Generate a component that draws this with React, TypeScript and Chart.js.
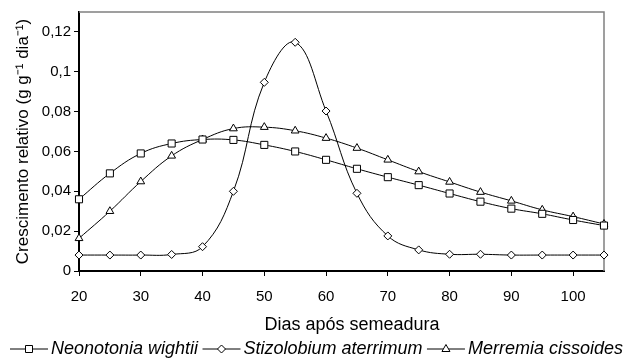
import React, { useEffect, useRef } from 'react';
import { Chart, registerables } from 'chart.js';

Chart.register(...registerables);

const days = [20, 25, 30, 35, 40, 45, 50, 55, 60, 65, 70, 75, 80, 85, 90, 95, 100, 105];
const neonotonia = [0.036, 0.049, 0.059, 0.064, 0.066, 0.0658, 0.0633, 0.06, 0.0558, 0.0513, 0.0471, 0.0431, 0.0389, 0.0348, 0.0313, 0.0287, 0.0256, 0.0228];
const stizolobium = [0.008, 0.008, 0.008, 0.0083, 0.0122, 0.04, 0.0947, 0.1148, 0.0803, 0.039, 0.0176, 0.0106, 0.0084, 0.0084, 0.008, 0.008, 0.008, 0.008];
const merremia = [0.0164, 0.03, 0.0449, 0.0578, 0.066, 0.0715, 0.0722, 0.0704, 0.0667, 0.0617, 0.0558, 0.0499, 0.0447, 0.0396, 0.0352, 0.0307, 0.0273, 0.0236];
const xTickValues = [20, 30, 40, 50, 60, 70, 80, 90, 100];
const yTickValues = [0, 0.02, 0.04, 0.06, 0.08, 0.1, 0.12];
const seriesNames = ['Neonotonia wightii', 'Stizolobium aterrimum', 'Merremia cissoides'];
const xTitle = 'Dias após semeadura';
const yTitle = 'Crescimento relativo (g g⁻¹ dia⁻¹)';

const FONT = '"Liberation Sans", Arial, sans-serif';

const framePlugin = {
  id: 'frame',
  beforeDatasetsDraw(chart: any) {
    const { ctx, chartArea } = chart;
    const { left, right, top, bottom } = chartArea;
    ctx.save();
    ctx.strokeStyle = '#808080';
    ctx.lineWidth = 1.5;
    ctx.beginPath();
    ctx.moveTo(left, top);
    ctx.lineTo(right, top);
    ctx.lineTo(right, bottom);
    ctx.stroke();
    ctx.restore();
  },
};

function drawMarker(ctx: CanvasRenderingContext2D, style: string, x: number, y: number) {
  ctx.beginPath();
  if (style === 'rect') {
    ctx.rect(x - 3.5, y - 3.5, 7, 7);
  } else if (style === 'rectRot') {
    ctx.moveTo(x - 4, y);
    ctx.lineTo(x, y - 4);
    ctx.lineTo(x + 4, y);
    ctx.lineTo(x, y + 4);
    ctx.closePath();
  } else {
    ctx.moveTo(x, y - 4.5);
    ctx.lineTo(x + 4, y + 2.5);
    ctx.lineTo(x - 4, y + 2.5);
    ctx.closePath();
  }
  ctx.fillStyle = '#fff';
  ctx.fill();
  ctx.stroke();
}

const legendPlugin = {
  id: 'customLegend',
  afterDraw(chart: any) {
    const { ctx } = chart;
    const styles = ['rect', 'rectRot', 'triangle'];
    ctx.save();
    // x axis title
    ctx.font = `18px ${FONT}`;
    ctx.fillStyle = '#000';
    ctx.textAlign = 'center';
    ctx.textBaseline = 'middle';
    const xs = chart.scales.x;
    ctx.fillText(xTitle, xs.getPixelForValue(64.2), 325);

    ctx.font = `italic 18px ${FONT}`;
    ctx.textBaseline = 'middle';
    ctx.textAlign = 'left';
    const y = 349;
    const lineLen = 38;
    const widths = seriesNames.map((n) => ctx.measureText(n).width);
    const total = widths.reduce((a, b) => a + b, 0) + 3 * (lineLen + 3);
    const startX = 10;
    const gap = Math.max(2, (613 - total) / 2);
    let x = startX;
    seriesNames.forEach((name, i) => {
      ctx.strokeStyle = '#000';
      ctx.lineWidth = 1;
      ctx.beginPath();
      ctx.moveTo(x, y);
      ctx.lineTo(x + lineLen, y);
      ctx.stroke();
      drawMarker(ctx, styles[i], x + lineLen / 2, y);
      ctx.fillStyle = '#000';
      ctx.fillText(name, x + lineLen + 3, y);
      x += lineLen + 3 + widths[i] + gap;
    });
    ctx.restore();
  },
};

export default function App() {
  const ref = useRef<HTMLCanvasElement | null>(null);

  useEffect(() => {
    if (!ref.current) return;
    Chart.defaults.font.family = FONT;
    const mk = (arr: number[]) => days.map((d, i) => ({ x: d, y: arr[i] }));
    const common = {
      borderColor: '#000',
      borderWidth: 1,
      pointBackgroundColor: '#fff',
      pointBorderColor: '#000',
      pointBorderWidth: 1,
      tension: 0.4,
      clip: false as any,
      fill: false,
    };
    const chart = new Chart(ref.current, {
      type: 'line',
      data: {
        datasets: [
          { ...common, label: seriesNames[0], data: mk(neonotonia), pointStyle: 'rect', pointRadius: 5 },
          { ...common, label: seriesNames[1], data: mk(stizolobium), pointStyle: 'rectRot', pointRadius: 4 },
          { ...common, label: seriesNames[2], data: mk(merremia), pointStyle: 'triangle', pointRadius: 4.5 },
        ],
      },
      options: {
        animation: false,
        responsive: false,
        devicePixelRatio: 1,
        layout: { padding: { left: 0, top: 12, right: 20, bottom: 0 } },
        plugins: { legend: { display: false }, tooltip: { enabled: false } },
        scales: {
          x: {
            type: 'linear',
            min: 20,
            max: 105,
            afterBuildTicks: (s: any) => { s.ticks = xTickValues.map((v) => ({ value: v })); },
            afterFit: (s: any) => { s.height = 91; },
            ticks: { color: '#000', font: { size: 15 }, padding: 12, maxRotation: 0, autoSkip: false },
            grid: { drawOnChartArea: false, drawTicks: true, tickLength: 5, color: '#000', tickColor: '#000' },
            border: { display: true, color: '#000', width: 2 },
            title: { display: false },
          },
          y: {
            type: 'linear',
            min: 0,
            max: 0.13,
            afterBuildTicks: (s: any) => { s.ticks = yTickValues.map((v) => ({ value: v })); },
            afterFit: (s: any) => { s.width = 79; },
            ticks: {
              color: '#000',
              font: { size: 15 },
              padding: 3,
              autoSkip: false,
              callback: (v: any) => String(Number(Number(v).toFixed(2))).replace('.', ','),
            },
            grid: { drawOnChartArea: false, drawTicks: true, tickLength: 5, color: '#000', tickColor: '#000' },
            border: { display: true, color: '#000', width: 2 },
            title: { display: true, text: yTitle, color: '#000', font: { size: 17 }, padding: { top: 13, bottom: 0 } },
          },
        },
      },
      plugins: [framePlugin, legendPlugin],
    } as any);
    return () => chart.destroy();
  }, []);

  return (
    <div style={{ position: 'fixed', left: 0, top: 0, width: 624, height: 362, background: '#fff' }}>
      <canvas ref={ref} width={624} height={362} style={{ width: 624, height: 362 }} />
    </div>
  );
}
